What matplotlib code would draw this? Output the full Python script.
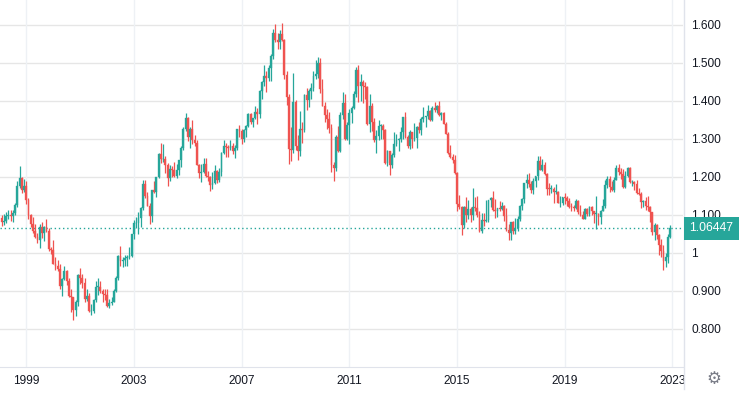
import numpy as np
import pandas as pd
import matplotlib
matplotlib.use('Agg')
import matplotlib.pyplot as plt
from matplotlib.patches import Rectangle
from matplotlib.lines import Line2D
from matplotlib.transforms import blended_transform_factory

plt.rcParams['font.family'] = ['Liberation Sans', 'DejaVu Sans']

# EUR/USD, monthly candles (Feb 1998 .. Dec 2022)
start_month = '1998-02-01'

opens = [
    1.093, 1.080, 1.085, 1.098, 1.100, 1.096, 1.105, 1.125, 1.175, 1.196, 1.165,  # 1998
    1.175, 1.138, 1.099, 1.077, 1.057, 1.043, 1.033, 1.068, 1.052, 1.068, 1.057, 1.009,  # 1999
    1.007, 0.972, 0.965, 0.957, 0.912, 0.932, 0.952, 0.925, 0.887, 0.883, 0.849, 0.870,  # 2000
    0.942, 0.933, 0.921, 0.878, 0.888, 0.847, 0.848, 0.876, 0.911, 0.911, 0.900, 0.891,  # 2001
    0.890, 0.860, 0.868, 0.872, 0.901, 0.934, 0.991, 0.978, 0.982, 0.987, 0.988, 0.993,  # 2002
    1.049, 1.078, 1.078, 1.091, 1.118, 1.182, 1.150, 1.124, 1.098, 1.165, 1.159, 1.199,  # 2003
    1.260, 1.246, 1.247, 1.230, 1.198, 1.220, 1.219, 1.203, 1.217, 1.243, 1.275, 1.326,  # 2004
    1.355, 1.304, 1.325, 1.296, 1.288, 1.230, 1.210, 1.213, 1.234, 1.202, 1.199, 1.179,  # 2005
    1.185, 1.216, 1.193, 1.212, 1.262, 1.281, 1.279, 1.277, 1.281, 1.268, 1.275, 1.325,  # 2006
    1.320, 1.299, 1.323, 1.335, 1.366, 1.345, 1.354, 1.370, 1.364, 1.426, 1.449, 1.464,  # 2007
    1.459, 1.486, 1.518, 1.579, 1.561, 1.555, 1.575, 1.561, 1.467, 1.409, 1.272, 1.270,  # 2008
    1.397, 1.280, 1.267, 1.325, 1.324, 1.416, 1.403, 1.426, 1.433, 1.464, 1.471, 1.499,  # 2009
    1.432, 1.387, 1.363, 1.351, 1.329, 1.230, 1.224, 1.305, 1.269, 1.363, 1.393, 1.299,  # 2010
    1.337, 1.369, 1.381, 1.417, 1.481, 1.439, 1.450, 1.439, 1.437, 1.339, 1.387, 1.345,  # 2011
    1.296, 1.308, 1.334, 1.334, 1.324, 1.237, 1.267, 1.230, 1.258, 1.286, 1.296, 1.299,  # 2012
    1.319, 1.358, 1.305, 1.282, 1.317, 1.300, 1.301, 1.330, 1.322, 1.352, 1.358, 1.359,  # 2013
    1.374, 1.349, 1.380, 1.377, 1.387, 1.363, 1.369, 1.339, 1.313, 1.263, 1.253, 1.245,  # 2014
    1.210, 1.129, 1.120, 1.073, 1.122, 1.099, 1.115, 1.099, 1.121, 1.118, 1.100, 1.057,  # 2015
    1.086, 1.083, 1.087, 1.138, 1.145, 1.113, 1.111, 1.117, 1.116, 1.124, 1.098, 1.059,  # 2016
    1.052, 1.080, 1.058, 1.065, 1.090, 1.124, 1.143, 1.184, 1.191, 1.181, 1.165, 1.190,  # 2017
    1.201, 1.241, 1.219, 1.232, 1.208, 1.169, 1.168, 1.169, 1.160, 1.160, 1.131, 1.132,  # 2018
    1.147, 1.145, 1.137, 1.122, 1.121, 1.117, 1.137, 1.108, 1.099, 1.090, 1.115, 1.102,  # 2019
    1.121, 1.109, 1.103, 1.103, 1.095, 1.110, 1.123, 1.178, 1.194, 1.172, 1.165, 1.193,  # 2020
    1.222, 1.214, 1.207, 1.173, 1.202, 1.223, 1.186, 1.187, 1.181, 1.158, 1.156, 1.134,  # 2021
    1.137, 1.124, 1.122, 1.107, 1.054, 1.073, 1.048, 1.022, 1.005, 0.980, 0.988, 1.041,  # 2022
]
highs = [
    1.100, 1.102, 1.108, 1.112, 1.112, 1.112, 1.130, 1.188, 1.229, 1.200, 1.195,
    1.190, 1.145, 1.103, 1.095, 1.075, 1.053, 1.075, 1.082, 1.072, 1.090, 1.065, 1.015,
    1.035, 0.990, 0.982, 0.970, 0.935, 0.965, 0.955, 0.935, 0.905, 0.885, 0.875, 0.945,
    0.960, 0.945, 0.935, 0.905, 0.895, 0.865, 0.880, 0.925, 0.935, 0.925, 0.905, 0.905,
    0.905, 0.880, 0.885, 0.905, 0.940, 0.995, 1.019, 0.990, 0.995, 0.995, 1.015, 1.050,
    1.087, 1.094, 1.108, 1.121, 1.193, 1.193, 1.161, 1.131, 1.166, 1.188, 1.200, 1.263,
    1.290, 1.286, 1.255, 1.236, 1.230, 1.229, 1.240, 1.233, 1.243, 1.280, 1.330, 1.367,
    1.357, 1.330, 1.349, 1.310, 1.296, 1.233, 1.235, 1.250, 1.250, 1.215, 1.203, 1.213,
    1.230, 1.218, 1.223, 1.265, 1.298, 1.289, 1.283, 1.298, 1.290, 1.284, 1.325, 1.337,
    1.326, 1.325, 1.337, 1.368, 1.368, 1.355, 1.385, 1.381, 1.428, 1.452, 1.495, 1.477,
    1.493, 1.524, 1.590, 1.602, 1.578, 1.587, 1.604, 1.562, 1.478, 1.417, 1.330, 1.472,
    1.401, 1.310, 1.373, 1.344, 1.417, 1.433, 1.430, 1.446, 1.478, 1.508, 1.514, 1.512,
    1.458, 1.397, 1.378, 1.370, 1.340, 1.240, 1.310, 1.333, 1.370, 1.424, 1.418, 1.344,
    1.379, 1.386, 1.425, 1.488, 1.494, 1.470, 1.454, 1.449, 1.440, 1.419, 1.394, 1.355,
    1.323, 1.349, 1.339, 1.338, 1.326, 1.270, 1.267, 1.264, 1.317, 1.313, 1.302, 1.331,
    1.358, 1.371, 1.311, 1.324, 1.318, 1.342, 1.335, 1.345, 1.357, 1.383, 1.361, 1.389,
    1.377, 1.385, 1.397, 1.390, 1.399, 1.371, 1.370, 1.344, 1.319, 1.285, 1.259, 1.257,
    1.212, 1.153, 1.124, 1.123, 1.146, 1.139, 1.121, 1.171, 1.146, 1.150, 1.110, 1.105,
    1.105, 1.138, 1.140, 1.146, 1.162, 1.143, 1.119, 1.137, 1.133, 1.125, 1.117, 1.075,
    1.082, 1.083, 1.091, 1.097, 1.127, 1.145, 1.185, 1.207, 1.209, 1.188, 1.196, 1.203,
    1.254, 1.256, 1.248, 1.240, 1.210, 1.185, 1.179, 1.174, 1.182, 1.162, 1.150, 1.148,
    1.157, 1.149, 1.145, 1.132, 1.127, 1.142, 1.139, 1.125, 1.110, 1.118, 1.118, 1.124,
    1.123, 1.111, 1.150, 1.105, 1.114, 1.142, 1.191, 1.201, 1.201, 1.188, 1.200, 1.231,
    1.235, 1.224, 1.220, 1.215, 1.227, 1.225, 1.191, 1.190, 1.191, 1.170, 1.161, 1.138,
    1.148, 1.150, 1.123, 1.108, 1.079, 1.077, 1.049, 1.037, 1.020, 1.001, 1.050, 1.074,
]
lows = [
    1.072, 1.074, 1.078, 1.088, 1.085, 1.082, 1.100, 1.120, 1.170, 1.158, 1.160,
    1.128, 1.090, 1.068, 1.053, 1.040, 1.025, 1.012, 1.040, 1.030, 1.055, 1.005, 0.998,
    0.970, 0.955, 0.952, 0.905, 0.886, 0.930, 0.915, 0.885, 0.845, 0.823, 0.835, 0.860,
    0.918, 0.908, 0.872, 0.873, 0.845, 0.837, 0.842, 0.870, 0.890, 0.895, 0.870, 0.875,
    0.857, 0.856, 0.863, 0.870, 0.898, 0.928, 0.965, 0.962, 0.965, 0.965, 0.985, 0.988,
    1.036, 1.066, 1.050, 1.068, 1.112, 1.144, 1.123, 1.077, 1.081, 1.158, 1.146, 1.196,
    1.236, 1.238, 1.211, 1.176, 1.190, 1.200, 1.200, 1.198, 1.205, 1.227, 1.270, 1.320,
    1.295, 1.275, 1.287, 1.280, 1.230, 1.196, 1.187, 1.210, 1.200, 1.190, 1.164, 1.169,
    1.182, 1.183, 1.186, 1.203, 1.260, 1.251, 1.252, 1.271, 1.261, 1.250, 1.271, 1.306,
    1.286, 1.292, 1.305, 1.332, 1.340, 1.332, 1.352, 1.339, 1.356, 1.406, 1.440, 1.424,
    1.453, 1.452, 1.511, 1.554, 1.536, 1.537, 1.556, 1.458, 1.389, 1.233, 1.242, 1.262,
    1.270, 1.245, 1.254, 1.289, 1.317, 1.377, 1.384, 1.404, 1.425, 1.457, 1.459, 1.421,
    1.385, 1.344, 1.327, 1.314, 1.214, 1.188, 1.215, 1.265, 1.265, 1.353, 1.297, 1.296,
    1.287, 1.342, 1.378, 1.410, 1.398, 1.400, 1.394, 1.405, 1.337, 1.317, 1.321, 1.292,
    1.263, 1.298, 1.300, 1.300, 1.234, 1.229, 1.205, 1.224, 1.252, 1.280, 1.269, 1.292,
    1.300, 1.303, 1.275, 1.274, 1.275, 1.294, 1.275, 1.314, 1.311, 1.345, 1.332, 1.351,
    1.348, 1.348, 1.370, 1.368, 1.361, 1.350, 1.339, 1.313, 1.259, 1.250, 1.236, 1.207,
    1.110, 1.116, 1.046, 1.066, 1.082, 1.089, 1.081, 1.086, 1.109, 1.094, 1.056, 1.052,
    1.071, 1.081, 1.082, 1.120, 1.110, 1.091, 1.095, 1.111, 1.112, 1.085, 1.057, 1.035,
    1.034, 1.049, 1.050, 1.057, 1.085, 1.112, 1.131, 1.170, 1.172, 1.157, 1.155, 1.172,
    1.192, 1.218, 1.215, 1.205, 1.151, 1.151, 1.158, 1.130, 1.154, 1.130, 1.122, 1.127,
    1.128, 1.123, 1.118, 1.111, 1.111, 1.116, 1.103, 1.097, 1.088, 1.088, 1.098, 1.098,
    1.099, 1.078, 1.064, 1.073, 1.077, 1.110, 1.119, 1.171, 1.161, 1.162, 1.160, 1.192,
    1.205, 1.195, 1.170, 1.170, 1.199, 1.184, 1.175, 1.166, 1.156, 1.152, 1.119, 1.122,
    1.112, 1.111, 1.081, 1.047, 1.035, 1.036, 0.995, 0.990, 0.954, 0.963, 0.973, 1.040,
]
closes = [
    1.080, 1.085, 1.098, 1.100, 1.096, 1.105, 1.125, 1.175, 1.196, 1.165, 1.175,
    1.138, 1.099, 1.077, 1.057, 1.043, 1.033, 1.068, 1.052, 1.068, 1.057, 1.009, 1.007,
    0.972, 0.965, 0.957, 0.912, 0.932, 0.952, 0.925, 0.887, 0.883, 0.849, 0.870, 0.942,
    0.933, 0.921, 0.878, 0.888, 0.847, 0.848, 0.876, 0.911, 0.911, 0.900, 0.891, 0.890,
    0.860, 0.868, 0.872, 0.901, 0.934, 0.991, 0.978, 0.982, 0.987, 0.988, 0.993, 1.049,
    1.078, 1.078, 1.091, 1.118, 1.182, 1.150, 1.124, 1.098, 1.165, 1.159, 1.199, 1.260,
    1.246, 1.247, 1.230, 1.198, 1.220, 1.219, 1.203, 1.217, 1.243, 1.275, 1.326, 1.355,
    1.304, 1.325, 1.296, 1.288, 1.230, 1.210, 1.213, 1.234, 1.202, 1.199, 1.179, 1.185,
    1.216, 1.193, 1.212, 1.262, 1.281, 1.279, 1.277, 1.281, 1.268, 1.275, 1.325, 1.320,
    1.299, 1.323, 1.335, 1.366, 1.345, 1.354, 1.370, 1.364, 1.426, 1.449, 1.464, 1.459,
    1.486, 1.518, 1.579, 1.561, 1.555, 1.575, 1.561, 1.467, 1.409, 1.272, 1.270, 1.397,
    1.280, 1.267, 1.325, 1.324, 1.416, 1.403, 1.426, 1.433, 1.464, 1.471, 1.499, 1.432,
    1.387, 1.363, 1.351, 1.329, 1.230, 1.224, 1.305, 1.269, 1.363, 1.393, 1.299, 1.337,
    1.369, 1.381, 1.417, 1.481, 1.439, 1.450, 1.439, 1.437, 1.339, 1.387, 1.345, 1.296,
    1.308, 1.334, 1.334, 1.324, 1.237, 1.267, 1.230, 1.258, 1.286, 1.296, 1.299, 1.319,
    1.358, 1.305, 1.282, 1.317, 1.300, 1.301, 1.330, 1.322, 1.352, 1.358, 1.359, 1.374,
    1.349, 1.380, 1.377, 1.387, 1.363, 1.369, 1.339, 1.313, 1.263, 1.253, 1.245, 1.210,
    1.129, 1.120, 1.073, 1.122, 1.099, 1.115, 1.099, 1.121, 1.118, 1.100, 1.057, 1.086,
    1.083, 1.087, 1.138, 1.145, 1.113, 1.111, 1.117, 1.116, 1.124, 1.098, 1.059, 1.052,
    1.080, 1.058, 1.065, 1.090, 1.124, 1.143, 1.184, 1.191, 1.181, 1.165, 1.190, 1.201,
    1.241, 1.219, 1.232, 1.208, 1.169, 1.168, 1.169, 1.160, 1.160, 1.131, 1.132, 1.147,
    1.145, 1.137, 1.122, 1.121, 1.117, 1.137, 1.108, 1.099, 1.090, 1.115, 1.102, 1.121,
    1.109, 1.103, 1.103, 1.095, 1.110, 1.123, 1.178, 1.194, 1.172, 1.165, 1.193, 1.222,
    1.214, 1.207, 1.173, 1.202, 1.223, 1.186, 1.187, 1.181, 1.158, 1.156, 1.134, 1.137,
    1.124, 1.122, 1.107, 1.054, 1.073, 1.048, 1.022, 1.005, 0.980, 0.988, 1.041, 1.06447,
]

last_price = 1.06447
price_ticks = [0.8, 0.9, 1.0, 1.1, 1.2, 1.3, 1.4, 1.5, 1.6]
price_labels = ['0.800', '0.900', '1', '1.100', '1.200', '1.300', '1.400', '1.500', '1.600']
year_ticks = [1999, 2003, 2007, 2011, 2015, 2019, 2023]

UP = '#26a69a'
DOWN = '#ef5350'
TXT = '#131722'

o = np.array(opens)
h = np.array(highs)
l = np.array(lows)
c = np.array(closes)
months = pd.date_range(start_month, periods=len(o), freq='MS')
# x = months counted from Jan 1999
x = (months.year - 1999) * 12 + (months.month - 1)
x = np.asarray(x, dtype=float)
cols = np.where(c >= o, UP, DOWN)

fig = plt.figure(figsize=(7.39, 3.93), dpi=100)
ax = fig.add_axes([0, 26 / 393, 683 / 739, 367 / 393])

# grid
for p in price_ticks:
    ax.axhline(p, color='#e6e6e6', lw=1, zorder=0)
xt = [(y - 1999) * 12 for y in year_ticks]
for xx in xt:
    ax.axvline(xx, color='#eef1f5', lw=1, zorder=0)

ax.vlines(x, l, h, colors=cols, lw=0.9, zorder=2)
body = np.maximum(np.abs(c - o), 0.0015)
ax.bar(x, body, bottom=np.minimum(o, c), width=0.8, color=cols,
       edgecolor=cols, linewidth=0.25, zorder=3)

ax.axhline(last_price, color=UP, lw=1, linestyle=(0, (1, 2)), zorder=1)

ax.set_xlim(-11.7, 292.7)
ax.set_ylim(0.7, 1.665)

for s in ['top', 'left', 'right']:
    ax.spines[s].set_visible(False)
ax.spines['bottom'].set_color('#e0e3eb')

ax.yaxis.tick_right()
ax.set_yticks(price_ticks)
ax.set_yticklabels(price_labels)
ax.set_xticks(xt)
ax.set_xticklabels([str(y) for y in year_ticks])
ax.tick_params(axis='both', length=0, labelsize=8.6, colors=TXT)
ax.tick_params(axis='y', pad=6)
ax.tick_params(axis='x', pad=6)

# right scale separator
fig.add_artist(Line2D([683.5 / 739] * 2, [4 / 393, 1], color='#e0e3eb', lw=1))

# last price label
fig.canvas.draw()
px_per_unit = ax.bbox.height / (1.665 - 0.7)
box_h = 22.6 / px_per_unit
trans = blended_transform_factory(fig.transFigure, ax.transData)
fig.add_artist(Rectangle((684 / 739, last_price - box_h / 2), 55 / 739, box_h,
                         transform=trans, color=UP, lw=0, zorder=5))
fig.text(711.5 / 739, last_price, '1.06447', transform=trans, color='white',
         fontsize=8.8, ha='center', va='center', zorder=6)

fig.text(714 / 739, 14 / 393, '\u2699', color='#787b86', fontsize=12,
         ha='center', va='center', family='DejaVu Sans')

fig.savefig('out.png', dpi=100)
